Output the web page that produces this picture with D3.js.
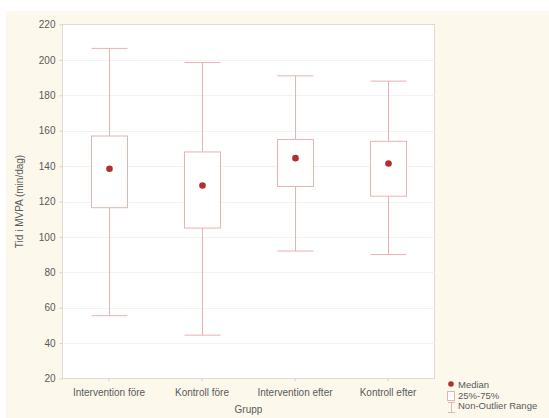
<!DOCTYPE html>
<html>
<head>
<meta charset="utf-8">
<script src="https://cdn.jsdelivr.net/npm/d3@7"></script>
<style>
  html, body { margin: 0; padding: 0; background: #ffffff; }
  svg text { font-family: "Liberation Sans", Arial, sans-serif; fill: #5a5a5a; }
</style>
</head>
<body>
<svg id="chart" width="549" height="418"></svg>
<script>
// Groups and box-plot statistics (minutes of MVPA per day)
const groups   = ["Intervention före", "Kontroll före", "Intervention efter", "Kontroll efter"];
const medians  = [138.5, 129, 144.5, 141.5];
const q1       = [116.5, 105, 128.5, 123];
const q3       = [157, 148, 155, 154];
const whiskLo  = [55.5, 44.5, 92, 90];
const whiskHi  = [206.5, 198.5, 191, 188];
const yTicks   = [20, 40, 60, 80, 100, 120, 140, 160, 180, 200, 220];
const legendLabels = ["Median", "25%-75%", "Non-Outlier Range"];

const svg = d3.select("#chart");
const W = 549, H = 418;
const plot = { left: 62.5, right: 434.5, top: 24.5, bottom: 378.5 };

const lineColor = "#e6b2b2";
const dotColor  = "#b0302f";

// panel background
svg.append("rect").attr("x", 6).attr("y", 11).attr("width", W - 6).attr("height", H - 11)
  .attr("fill", "#fcf8ec");
svg.append("rect").attr("x", plot.left).attr("y", plot.top)
  .attr("width", plot.right - plot.left).attr("height", plot.bottom - plot.top)
  .attr("fill", "#ffffff").attr("stroke", "#e0dbd2").attr("stroke-width", 1);

const x = d3.scaleBand().domain(groups).range([plot.left, plot.right]);
const y = d3.scaleLinear().domain([20, 220]).range([plot.bottom, plot.top]);

// horizontal grid
svg.append("g").selectAll("line").data(yTicks.slice(1, -1)).join("line")
  .attr("x1", plot.left).attr("x2", plot.right)
  .attr("y1", d => Math.round(y(d)) + 0.5).attr("y2", d => Math.round(y(d)) + 0.5)
  .attr("stroke", "#f2f2f2");

// y axis
const yAxis = svg.append("g").attr("transform", `translate(${plot.left},0)`)
  .call(d3.axisLeft(y).tickValues(yTicks).tickSize(3).tickPadding(4));
yAxis.select(".domain").remove();
yAxis.selectAll("line").attr("stroke", "#d6d0c6");
yAxis.selectAll("text").attr("font-size", 10).style("fill", "#5a5a5a");

// x axis
const xAxis = svg.append("g").attr("transform", `translate(0,${plot.bottom})`)
  .call(d3.axisBottom(x).tickSize(3).tickPadding(7));
xAxis.select(".domain").remove();
xAxis.selectAll("line").attr("stroke", "#d6d0c6");
xAxis.selectAll("text").attr("font-size", 10).style("fill", "#5a5a5a");

// axis titles
svg.append("text").attr("x", (plot.left + plot.right) / 2).attr("y", 413)
  .attr("text-anchor", "middle").attr("font-size", 10).text("Grupp");
svg.append("text")
  .attr("transform", `translate(23,${(plot.top + plot.bottom) / 2}) rotate(-90)`)
  .attr("text-anchor", "middle").attr("font-size", 10).text("Tid i MVPA (min/dag)");

// boxes
const boxW = 36;
const g = svg.append("g").selectAll("g").data(groups).join("g")
  .attr("transform", d => `translate(${Math.round(x(d) + x.bandwidth() / 2) + 0.5},0)`);

g.append("line").attr("y1", (d, i) => y(whiskHi[i])).attr("y2", (d, i) => y(q3[i]))
  .attr("stroke", lineColor);
g.append("line").attr("y1", (d, i) => y(q1[i])).attr("y2", (d, i) => y(whiskLo[i]))
  .attr("stroke", lineColor);
g.append("line").attr("x1", -boxW / 2).attr("x2", boxW / 2)
  .attr("y1", (d, i) => y(whiskHi[i])).attr("y2", (d, i) => y(whiskHi[i]))
  .attr("stroke", lineColor);
g.append("line").attr("x1", -boxW / 2).attr("x2", boxW / 2)
  .attr("y1", (d, i) => y(whiskLo[i])).attr("y2", (d, i) => y(whiskLo[i]))
  .attr("stroke", lineColor);
g.append("rect").attr("x", -boxW / 2).attr("width", boxW)
  .attr("y", (d, i) => y(q3[i])).attr("height", (d, i) => y(q1[i]) - y(q3[i]))
  .attr("fill", "#ffffff").attr("stroke", lineColor);
g.append("circle").attr("cy", (d, i) => y(medians[i])).attr("r", 3.3)
  .attr("fill", dotColor);

// legend
const lg = svg.append("g").attr("transform", "translate(451,0)");
lg.append("circle").attr("cx", 0).attr("cy", 384).attr("r", 2.8).attr("fill", dotColor);
lg.append("rect").attr("x", -3.5).attr("y", 391.5).attr("width", 7).attr("height", 9)
  .attr("fill", "#fff").attr("stroke", lineColor);
lg.append("line").attr("x1", 0.5).attr("x2", 0.5).attr("y1", 402).attr("y2", 413).attr("stroke", lineColor);
lg.append("line").attr("x1", -3).attr("x2", 4).attr("y1", 402.5).attr("y2", 402.5).attr("stroke", lineColor);
lg.append("line").attr("x1", -3).attr("x2", 4).attr("y1", 412.5).attr("y2", 412.5).attr("stroke", lineColor);
lg.selectAll("text.lab").data(legendLabels).join("text").attr("class", "lab")
  .attr("x", 7).attr("y", (d, i) => 388 + i * 10.5)
  .attr("font-size", 9.5).text(d => d);
</script>
</body>
</html>
